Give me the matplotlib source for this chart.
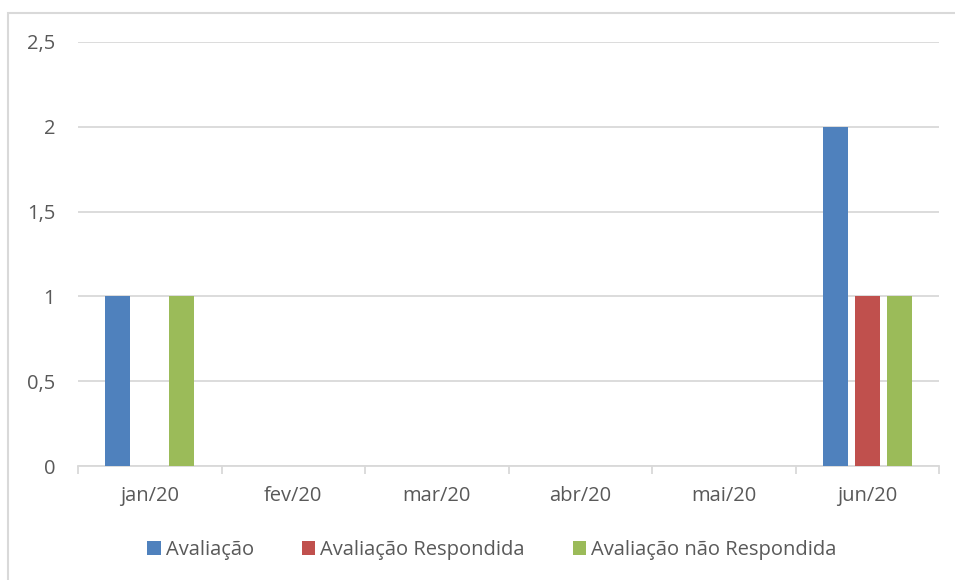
import matplotlib
matplotlib.use('Agg')
import matplotlib.pyplot as plt
from matplotlib.patches import Rectangle
import numpy as np

# Data
months = ['jan/20', 'fev/20', 'mar/20', 'abr/20', 'mai/20', 'jun/20']
avaliacao = [1, 0, 0, 0, 0, 2]
respondida = [0, 0, 0, 0, 0, 1]
nao_respondida = [1, 0, 0, 0, 0, 1]
series_names = ['Avaliação', 'Avaliação Respondida', 'Avaliação não Respondida']
colors = ['#4f81bd', '#c0504d', '#9bbb59']

text_gray = '#595959'
grid_gray = '#d9d9d9'

plt.rcParams['font.family'] = ['Open Sans', 'DejaVu Sans']

fig = plt.figure(figsize=(9.55, 5.8), dpi=100)
ax = fig.add_axes([78 / 955, 1 - 466 / 580, (939 - 78) / 955, (466 - 42) / 580])

x = np.arange(len(months))
width = 0.175
stride = 0.222
for i, (vals, name, c) in enumerate(zip([avaliacao, respondida, nao_respondida], series_names, colors)):
    ax.bar(x + (i - 1) * stride, vals, width, color=c, label=name, zorder=3)

ax.set_xlim(-0.5, len(months) - 0.5)
ax.set_ylim(0, 2.5)
ax.set_yticks([0, 0.5, 1, 1.5, 2, 2.5])
ax.set_yticklabels(['0', '0,5', '1', '1,5', '2', '2,5'])
ax.yaxis.grid(True, color=grid_gray, linewidth=1.3, zorder=0)
ax.tick_params(axis='y', length=0, pad=16.5, labelsize=14.5, labelcolor=text_gray)

# category labels centred, ticks on category boundaries
ax.set_xticks(x)
ax.set_xticklabels(months)
ax.tick_params(axis='x', which='major', length=0, pad=14.5, labelsize=14.5, labelcolor=text_gray)
ax.set_xticks(np.arange(len(months) + 1) - 0.5, minor=True)
ax.tick_params(axis='x', which='minor', length=6, width=1.3, color=grid_gray, direction='out')

for s in ['top', 'right', 'left']:
    ax.spines[s].set_visible(False)
ax.spines['bottom'].set_color(grid_gray)
ax.spines['bottom'].set_linewidth(1.3)

leg = fig.legend(loc='center', bbox_to_anchor=(492 / 955, 1 - 550 / 580), ncol=3,
                 frameon=False, fontsize=14.5, handlelength=0.65, handleheight=0.65,
                 handletextpad=0.25, columnspacing=2.4)
for t in leg.get_texts():
    t.set_color(text_gray)

# chart frame (left and top edges visible)
fig.add_artist(Rectangle((7.5 / 955, -0.1), 2, 1.1 - 13.5 / 580, transform=fig.transFigure,
                         fill=False, edgecolor=grid_gray, linewidth=1.5))

fig.savefig('out.png', dpi=100, facecolor='white')
